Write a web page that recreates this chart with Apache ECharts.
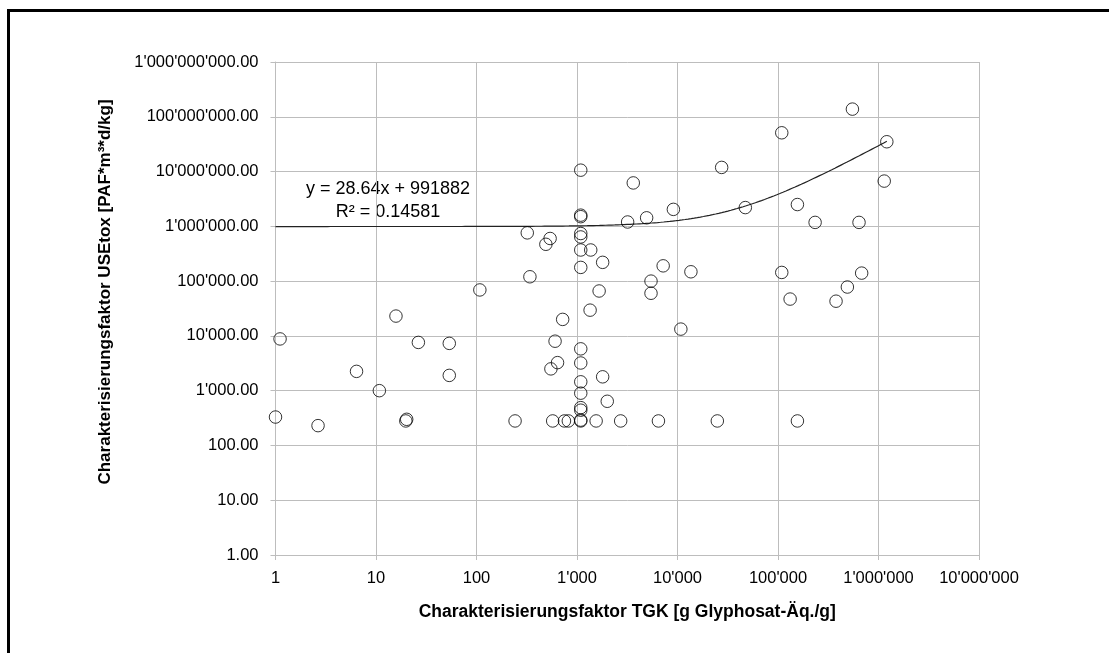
<!DOCTYPE html>
<html>
<head>
<meta charset="utf-8">
<script src="https://cdn.jsdelivr.net/npm/echarts@6/dist/echarts.min.js"></script>
<style>
  html, body { margin: 0; padding: 0; background: #fff; }
  #frame {
    position: absolute; left: 7px; top: 9px; width: 1102px; height: 644px;
    border-left: 3px solid #000; border-top: 3px solid #000; box-sizing: border-box;
  }
  #chart { position: absolute; left: 0; top: 0; width: 1109px; height: 653px; }
</style>
</head>
<body>
<div id="frame"></div>
<div id="chart"></div>
<script>
const tgk = [
  1.0, 1.11, 2.65, 6.4, 10.8, 15.8, 19.8, 20.2, 26.4, 53.6,
  53.6, 108, 242, 320, 340, 490, 540, 550, 573, 605,
  640, 720, 750, 820, 1090, 1090, 1090, 1090, 1090, 1090,
  1090, 1090, 1090, 1090, 1090, 1090, 1090, 1090, 1090, 1370,
  1350, 1550, 1660, 1800, 1800, 2000, 2720, 3190, 3630, 4930,
  5450, 5450, 6460, 7200, 9100, 10800, 13600, 24900, 27500, 47300,
  109000, 109000, 132000, 156000, 156000, 234000, 378000, 490000, 550000, 640000,
  680000, 1140000, 1210000
];
const usetox = [
  330, 8800, 230, 2250, 1000, 23000, 280, 300, 7600, 7300,
  1900, 69000, 280, 760000, 120000, 470000, 600000, 2500, 280, 8000,
  3250, 20000, 280, 280, 10600000, 1600000, 1500000, 740000, 640000, 370000,
  178000, 5800, 3200, 1450, 900, 490, 440, 280, 290, 370000,
  29500, 280, 66000, 220000, 1790, 640, 280, 1200000, 6200000, 1430000,
  100000, 60000, 280, 190000, 2040000, 13300, 148000, 280, 11900000, 2200000,
  51000000, 144000, 47000, 2500000, 280, 1180000, 43000, 78000, 138000000, 1180000,
  140000, 6700000, 35000000
];

// lineare Trendlinie (Excel)
const slope = 28.64;
const intercept = 991882;
const r2 = 0.14581;

// Achsen-Beschriftungen
const xName = 'Charakterisierungsfaktor TGK [g Glyphosat-Äq./g]';
const yName = 'Charakterisierungsfaktor USEtox [PAF*m³*d/kg]';

const groupDigits = (n) => String(n).replace(/\B(?=(\d{3})+(?!\d))/g, "'");

const scatterData = tgk.map((x, i) => [x, usetox[i]]);

// Trendlinie im linearen Raum, auf log-Achsen gezeichnet
const xMaxTrend = Math.max(...tgk);
const trendData = [];
for (let i = 0; i <= 200; i++) {
  const x = Math.pow(10, Math.log10(xMaxTrend) * i / 200);
  trendData.push([x, slope * x + intercept]);
}

const myChart = echarts.init(document.getElementById('chart'));
const font = '"Liberation Sans", Arial, sans-serif';
const gridColor = '#bdbdbd';

const option = {
  animation: false,
  textStyle: { fontFamily: font },
  grid: { left: 275.5, right: 130, top: 62, bottom: 98 },
  xAxis: {
    type: 'log',
    logBase: 10,
    min: 1,
    max: 10000000,
    name: xName,
    nameLocation: 'middle',
    nameGap: 48,
    nameTextStyle: { color: '#000', fontSize: 17.5, fontWeight: 'bold', fontFamily: font },
    axisLine: { lineStyle: { color: gridColor } },
    axisTick: { show: true, length: 5, lineStyle: { color: gridColor } },
    splitLine: { show: true, lineStyle: { color: gridColor, width: 1 } },
    axisLabel: {
      color: '#000', fontSize: 16.5, margin: 15,
      formatter: (v) => groupDigits(Math.round(v))
    }
  },
  yAxis: {
    type: 'log',
    logBase: 10,
    min: 1,
    max: 1000000000,
    axisLine: { show: true, lineStyle: { color: gridColor } },
    axisTick: { show: true, length: 5, lineStyle: { color: gridColor } },
    splitLine: { show: true, lineStyle: { color: gridColor, width: 1 } },
    axisLabel: {
      color: '#000', fontSize: 16.5, margin: 17,
      formatter: (v) => groupDigits(Math.round(v)) + '.00'
    }
  },
  graphic: [
    {
      type: 'text', x: 105, y: 292, rotation: Math.PI / 2,
      style: {
        text: yName, font: 'bold 17px ' + font, fill: '#000',
        align: 'center', verticalAlign: 'middle'
      }
    },
    {
      type: 'text', x: 388, y: 189,
      style: {
        text: 'y = ' + slope + 'x + ' + intercept,
        font: '18px ' + font, fill: '#000', align: 'center', verticalAlign: 'middle'
      }
    },
    {
      type: 'text', x: 388, y: 212,
      style: {
        text: 'R² = ' + r2,
        font: '18px ' + font, fill: '#000', align: 'center', verticalAlign: 'middle'
      }
    }
  ],
  series: [
    {
      name: 'USEtox vs TGK',
      type: 'scatter',
      data: scatterData,
      symbol: 'circle',
      symbolSize: 12.5,
      itemStyle: { color: 'rgba(0,0,0,0)', borderColor: '#000', borderWidth: 1 },
      z: 3
    },
    {
      name: 'Trend',
      type: 'line',
      data: trendData,
      showSymbol: false,
      smooth: false,
      lineStyle: { color: '#222', width: 1.2 },
      z: 2
    }
  ]
};

myChart.setOption(option);
</script>
</body>
</html>
